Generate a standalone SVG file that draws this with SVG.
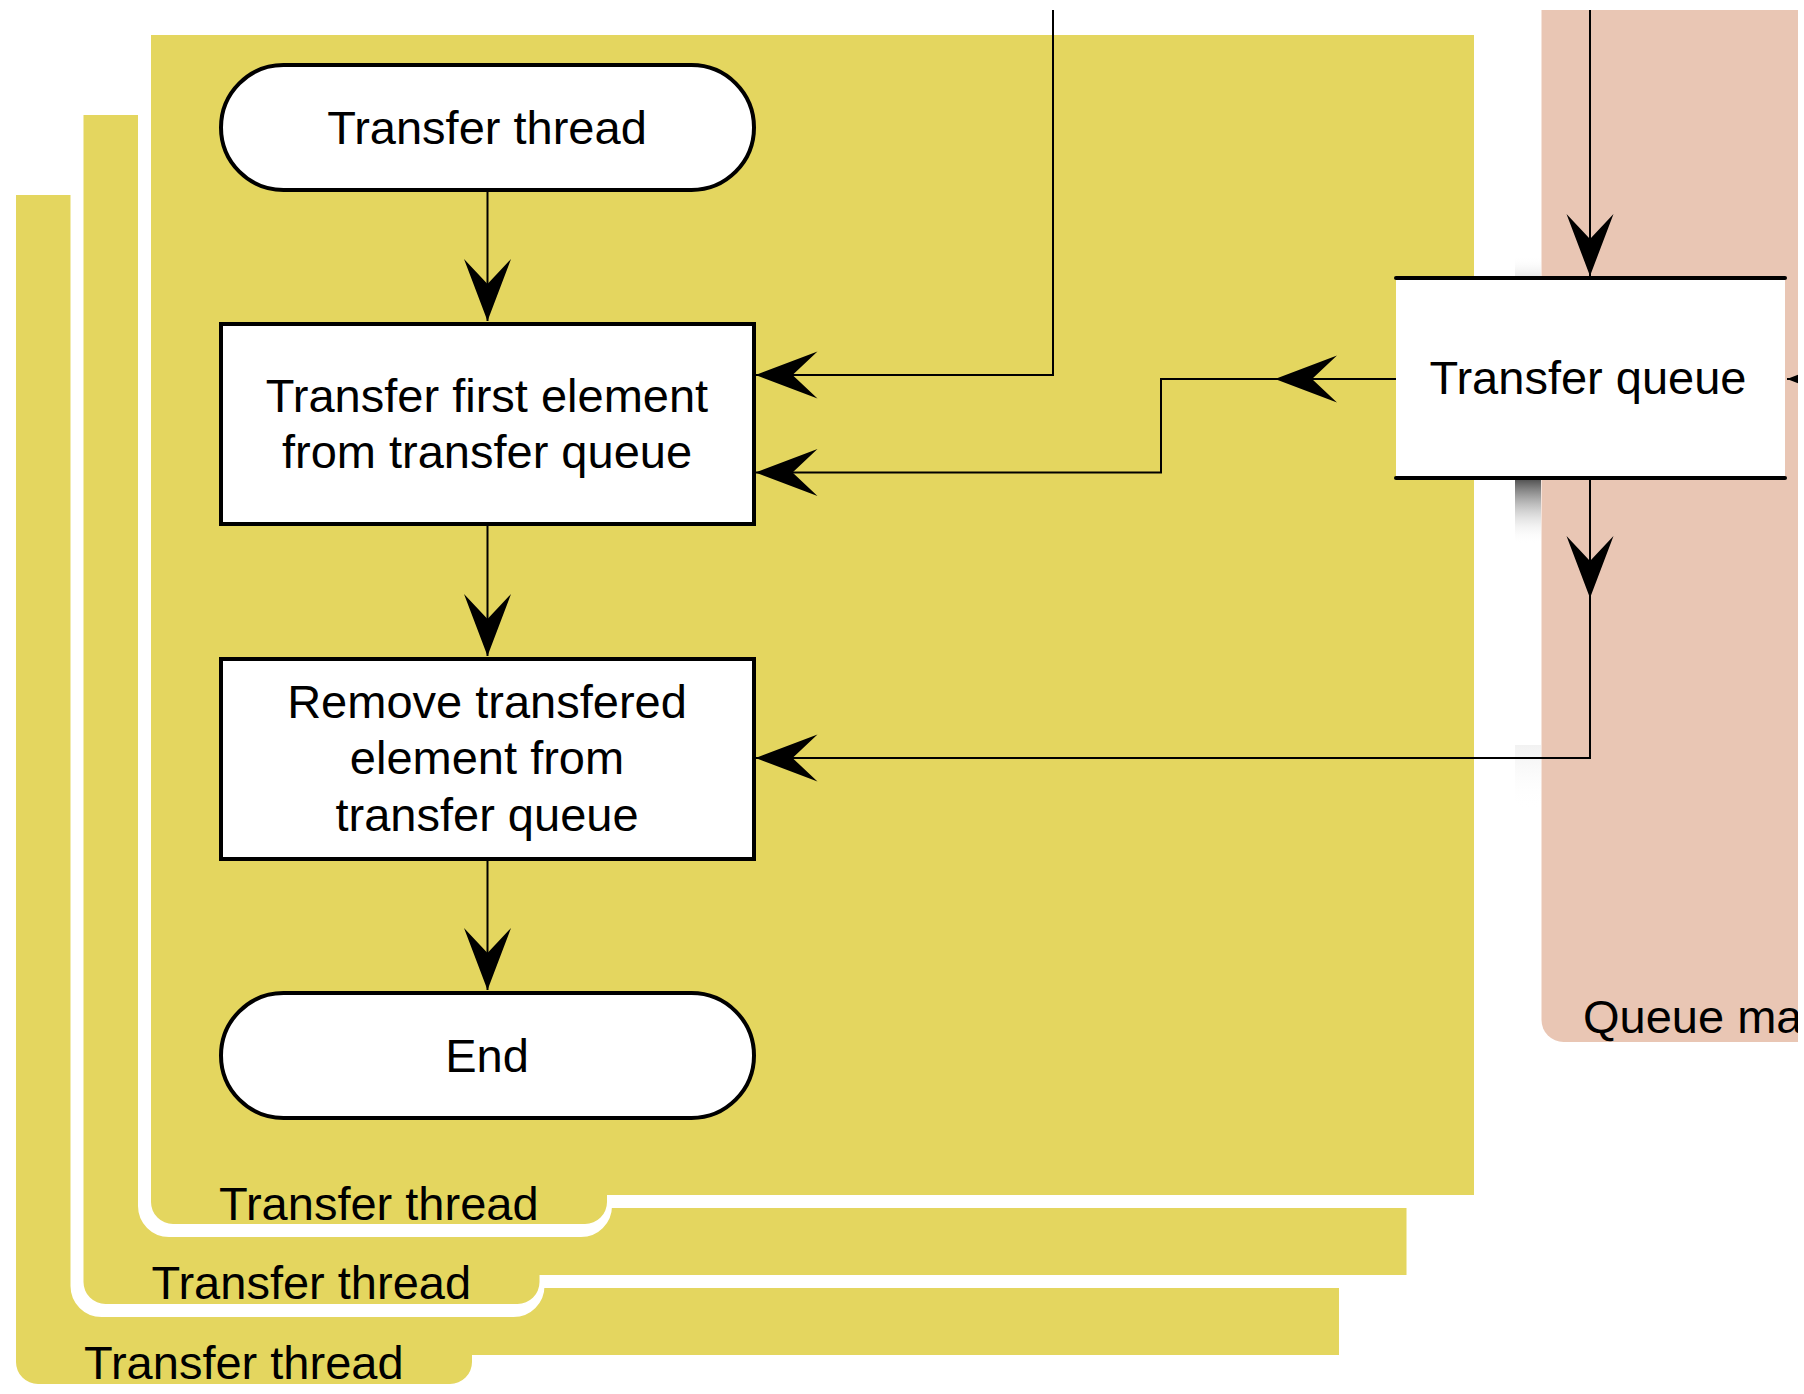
<svg xmlns="http://www.w3.org/2000/svg" xmlns:xlink="http://www.w3.org/1999/xlink" width="1804" height="1394" viewBox="0 0 1804 1394">
  <defs>
    <style>
      .lane { fill: #e4d65f; }
      .halo { fill: #ffffff; stroke: #ffffff; stroke-width: 18; stroke-linejoin: round; }
      .qlane { fill: #e9c6b4; }
      .box { fill: #ffffff; stroke: #000000; stroke-width: 4; }
      .rail { stroke: #000000; stroke-width: 4; stroke-linecap: round; fill: none; }
      .edge { fill: none; stroke: #000000; stroke-width: 2; marker-end: url(#arrow); }
      text { font-family: "Liberation Sans", Arial, Helvetica, sans-serif; font-size: 47px; fill: #000000; }
      .c { text-anchor: middle; }
    </style>
    <!-- barbed arrowhead, tip at the end point -->
    <marker id="arrow" viewBox="-64 -25 66 50" markerWidth="66" markerHeight="50" refX="0" refY="0" markerUnits="userSpaceOnUse" orient="auto" overflow="visible">
      <path d="M0,0 L-62,-23.5 L-37,0 L-62,23.5 Z" fill="#000000"/>
    </marker>
    <!-- swimlane outline with label tab at the bottom left -->
    <path id="panel" d="M0,0 H1323 V1160 H456 V1167 A22,22 0 0 1 434,1189 H22 A22,22 0 0 1 0,1167 Z"/>
    <linearGradient id="shadeDown" x1="0" y1="0" x2="0" y2="1">
      <stop offset="0" stop-color="#555555" stop-opacity="1"/>
      <stop offset="1" stop-color="#ffffff" stop-opacity="0"/>
    </linearGradient>
    <linearGradient id="shadeUp" x1="0" y1="1" x2="0" y2="0">
      <stop offset="0" stop-color="#e6e6e6" stop-opacity="1"/>
      <stop offset="1" stop-color="#ffffff" stop-opacity="0"/>
    </linearGradient>
    <linearGradient id="shadeFaint" x1="0" y1="0" x2="0" y2="1">
      <stop offset="0" stop-color="#f2f2f2" stop-opacity="1"/>
      <stop offset="1" stop-color="#ffffff" stop-opacity="0"/>
    </linearGradient>
    <clipPath id="page">
      <rect x="0" y="0" width="1798" height="1394"/>
    </clipPath>
  </defs>

  <rect x="0" y="0" width="1804" height="1394" fill="#ffffff"/>

  <g clip-path="url(#page)">
    <!-- stacked transfer thread swimlanes, back to front -->
    <g id="lane-thread-3" transform="translate(16,195)">
      <use xlink:href="#panel" class="halo" transform="translate(-4,4)"/>
      <use xlink:href="#panel" class="lane"/>
      <text x="68" y="1184">Transfer thread</text>
    </g>
    <g id="lane-thread-2" transform="translate(83.5,115)">
      <use xlink:href="#panel" class="halo" transform="translate(-4,4)"/>
      <use xlink:href="#panel" class="lane"/>
      <text x="68" y="1184">Transfer thread</text>
    </g>
    <g id="lane-thread-1" transform="translate(151,35)">
      <use xlink:href="#panel" class="halo" transform="translate(-4,4)"/>
      <use xlink:href="#panel" class="lane"/>
      <text x="68" y="1185">Transfer thread</text>
    </g>

    <!-- queue manager swimlane -->
    <g id="lane-queue-manager">
      <path class="qlane" d="M1541.5,10 H1810 V1042 H1563.5 A22,22 0 0 1 1541.5,1020 Z"/>
      <text x="1583" y="1033">Queue ma</text>
    </g>

    <!-- soft shading beside the queue lane -->
    <g id="shading">
      <rect x="1515" y="256" width="26" height="22" fill="url(#shadeUp)"/>
      <rect x="1515" y="480" width="26" height="64" fill="url(#shadeDown)"/>
      <rect x="1515" y="745" width="26" height="65" fill="url(#shadeFaint)"/>
    </g>

    <!-- nodes -->
    <g id="start">
      <rect class="box" x="221" y="65" width="533" height="125" rx="62.5" ry="62.5"/>
      <text class="c" x="487" y="144">Transfer thread</text>
    </g>
    <g id="transfer-first">
      <rect class="box" x="221" y="324" width="533" height="200"/>
      <text class="c" x="487" y="411.5">Transfer first element</text>
      <text class="c" x="487" y="468">from transfer queue</text>
    </g>
    <g id="remove-transferred">
      <rect class="box" x="221" y="659" width="533" height="200"/>
      <text class="c" x="487" y="717.5">Remove transfered</text>
      <text class="c" x="487" y="774">element from</text>
      <text class="c" x="487" y="830.5">transfer queue</text>
    </g>
    <g id="end">
      <rect class="box" x="221" y="993" width="533" height="125" rx="62.5" ry="62.5"/>
      <text class="c" x="487" y="1072">End</text>
    </g>
    <g id="transfer-queue">
      <rect x="1396" y="278" width="389" height="200" fill="#ffffff"/>
      <line class="rail" x1="1396" y1="278" x2="1785" y2="278"/>
      <line class="rail" x1="1396" y1="478" x2="1785" y2="478"/>
      <text class="c" x="1588" y="394">Transfer queue</text>
    </g>

    <!-- connectors -->
    <g id="connectors">
      <path class="edge" d="M487.5,190 V321"/>
      <path class="edge" d="M487.5,524 V656"/>
      <path class="edge" d="M487.5,859 V990"/>
      <path class="edge" d="M1053,10 V375 H755.5"/>
      <path class="edge" d="M1396,379 H1161 V472.5 H755.5"/>
      <path class="edge" d="M1396,379 H1275"/>
      <path class="edge" d="M1590,10 V276"/>
      <path class="edge" d="M1590,480 V758 H755.5"/>
      <path class="edge" d="M1590,480 V598"/>
      <path class="edge" d="M1860,379 H1787"/>
    </g>
  </g>
</svg>
